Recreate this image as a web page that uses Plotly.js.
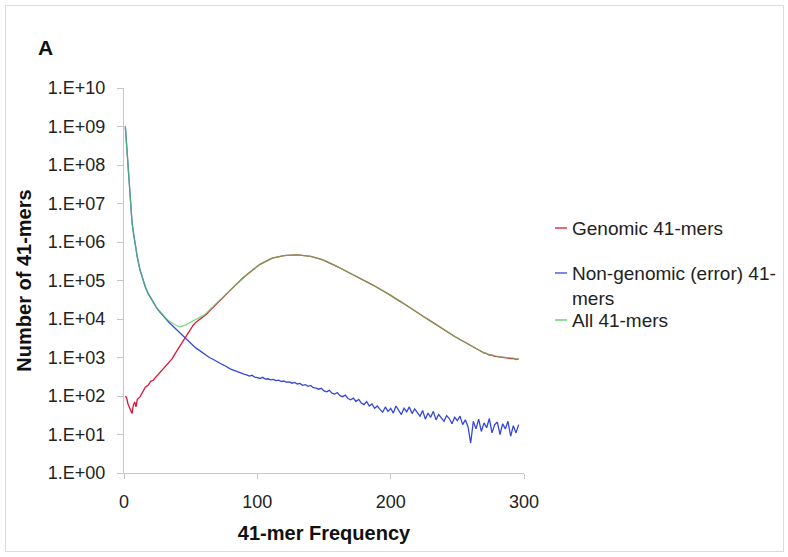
<!DOCTYPE html>
<html><head><meta charset="utf-8">
<script src="https://cdn.plot.ly/plotly-3.0.1.min.js"></script>
<style>
html,body{margin:0;padding:0;background:#fff;}
#chart{width:788px;height:557px;}
#frame{position:absolute;left:5px;top:5px;width:777px;height:545px;border:1px solid #dcdcdc;pointer-events:none;}
</style>
</head><body><div id="chart"></div><div id="frame"></div>
<script>
// 41-mer frequency (x)
const frequency = [1,2,3,4,5,6,7,8,9,10,
 12,14,16,18,20,22,24,26,28,30,
 32,34,36,38,40,42,44,46,48,50,
 52,54,56,58,60,62,64,66,68,70,
 72,74,76,78,80,82,84,86,88,90,
 92,94,96,98,100,102,104,106,108,110,
 112,114,116,118,120,122,124,126,128,130,
 132,134,136,138,140,142,144,146,148,150,
 152,154,156,158,160,162,164,166,168,170,
 172,174,176,178,180,182,184,186,188,190,
 192,194,196,198,200,202,204,206,208,210,
 212,214,216,218,220,222,224,226,228,230,
 232,234,236,238,240,242,244,246,248,250,
 252,254,256,258,260,262,264,266,268,270,
 272,274,276,278,280,282,284,286,288,290,
 292,294,296];

const genomic = [100,90,62,52,40,35,58,70,52,82,
 95,130,170,190,240,260,310,360,430,520,
 620,750,920,1200,1550,2050,2650,3300,4300,5600,
 7000,8300,9400,10500,11400,13400,16000,18600,22200,25200,
 3.03e4,3.54e4,4.14e4,4.85e4,5.7e4,6.75e4,7.85e4,9.05e4,1.065e5,1.225e5,
 1.41e5,1.62e5,1.86e5,2.09e5,2.34e5,2.63e5,2.88e5,3.16e5,3.39e5,3.63e5,
 3.85e5,4.03e5,4.17e5,4.32e5,4.42e5,4.49e5,4.55e5,4.59e5,4.62e5,4.62e5,
 4.57e5,4.52e5,4.42e5,4.32e5,4.22e5,4.07e5,3.94e5,3.76e5,3.55e5,3.35e5,
 3.13e5,2.88e5,2.69e5,2.48e5,2.29e5,2.11e5,1.95e5,1.80e5,1.66e5,1.53e5,
 1.41e5,1.30e5,1.20e5,1.11e5,1.01e5,9.3e4,8.6e4,7.85e4,7.2e4,6.6e4,
 6.0e4,5.5e4,5.0e4,4.6e4,4.1e4,3.7e4,3.4e4,3.05e4,2.75e4,2.5e4,
 2.24e4,2.0e4,1.82e4,1.64e4,1.48e4,1.33e4,1.2e4,1.08e4,9.8e3,8.8e3,
 7.85e3,7.2e3,6.45e3,5.8e3,5.2e3,4.7e3,4.3e3,3.85e3,3.5e3,3.2e3,
 2.93e3,2.68e3,2.43e3,2.22e3,2.05e3,1.83e3,1.70e3,1.53e3,1.43e3,1.31e3,
 1.27e3,1.16e3,1.15e3,1.07e3,1.06e3,1.03e3,1.0e3,965,980,940,
 945,890,925];

const nonGenomic = [1.0e9,2.8e8,8.9e7,2.2e7,7.1e6,3.3e6,1.8e6,1.05e6,6.3e5,4.0e5,
 1.9e5,1.05e5,6.8e4,4.7e4,3.5e4,2.6e4,2.07e4,1.66e4,1.36e4,1.12e4,
 9.4e3,8.0e3,6.9e3,5.9e3,5.1e3,4.4e3,3.7e3,3.1e3,2.65e3,2.3e3,
 2000,1750,1580,1400,1250,1120,1000,930,840,760,
 700,650,600,540,500,470,440,410,395,370,
 355,330,345,310,300,285,305,275,280,262,
 270,250,258,238,245,228,232,215,226,205,
 212,190,198,178,188,165,160,150,158,135,
 128,140,118,112,122,102,96,105,86,80,
 88,72,82,66,60,72,55,62,48,55,
 45,38,52,40,48,36,55,42,33,48,
 39,52,35,46,38,30,42,25,36,28,
 40,24,33,27,22,31,26,19,28,23,
 30,18,24,16,6,22,14,25,12,20,
 15,26,11,18,21,10,19,14,22,9,
 17,11,18];

const allKmers = [1.0e9,2.8e8,8.9e7,2.2e7,7.1e6,3.3e6,1.8e6,1.05e6,6.3e5,4.0e5,
 1.9e5,1.05e5,6.8e4,4.7e4,3.5e4,2.6e4,2.1e4,1.7e4,1.4e4,1.17e4,
 1.0e4,8.7e3,7.8e3,7.1e3,6.6e3,6.3e3,6.5e3,6.9e3,7.6e3,8.3e3,
 9.1e3,1.0e4,1.1e4,1.17e4,1.26e4,1.45e4,1.7e4,1.95e4,2.3e4,2.6e4,
 3.1e4,3.6e4,4.2e4,4.9e4,5.75e4,6.8e4,7.9e4,9.1e4,1.07e5,1.23e5,
 1.41e5,1.62e5,1.86e5,2.09e5,2.34e5,2.63e5,2.88e5,3.16e5,3.39e5,3.63e5,
 3.85e5,4.03e5,4.17e5,4.32e5,4.42e5,4.49e5,4.55e5,4.59e5,4.62e5,4.62e5,
 4.57e5,4.52e5,4.42e5,4.32e5,4.22e5,4.07e5,3.94e5,3.76e5,3.55e5,3.35e5,
 3.13e5,2.88e5,2.69e5,2.48e5,2.29e5,2.11e5,1.95e5,1.80e5,1.66e5,1.53e5,
 1.41e5,1.30e5,1.20e5,1.11e5,1.01e5,9.3e4,8.6e4,7.85e4,7.2e4,6.6e4,
 6.0e4,5.5e4,5.0e4,4.6e4,4.1e4,3.7e4,3.4e4,3.05e4,2.75e4,2.5e4,
 2.24e4,2.0e4,1.82e4,1.64e4,1.48e4,1.33e4,1.2e4,1.08e4,9.8e3,8.8e3,
 7.9e3,7.2e3,6.5e3,5.8e3,5.25e3,4.7e3,4.3e3,3.9e3,3.55e3,3.2e3,
 2.95e3,2.7e3,2.45e3,2.25e3,2.05e3,1.85e3,1.72e3,1.55e3,1.45e3,1.33e3,
 1.28e3,1.18e3,1.16e3,1.09e3,1.07e3,1.04e3,1.02e3,980,1.0e3,950,
 960,900,940];

const seriesNames = ['Genomic 41-mers', 'Non-genomic (error) 41-<br>mers', 'All 41-mers'];
const seriesColors = ['#dd1636', '#3547dc', '#55cc60'];
const yTickVals = [1,10,100,1e3,1e4,1e5,1e6,1e7,1e8,1e9,1e10];
const yTickText = ['1.E+00','1.E+01','1.E+02','1.E+03','1.E+04','1.E+05','1.E+06','1.E+07','1.E+08','1.E+09','1.E+10'];
const xTickVals = [0,100,200,300];

const FONT = 'Liberation Sans, Arial, Helvetica, sans-serif';

const traces = [
  {x: frequency, y: genomic, name: seriesNames[0], type: 'scatter', mode: 'lines',
   line: {color: seriesColors[0], width: 1.3}},
  {x: frequency, y: nonGenomic, name: seriesNames[1], type: 'scatter', mode: 'lines',
   line: {color: seriesColors[1], width: 1.3}},
  {x: frequency, y: allKmers, name: seriesNames[2], type: 'scatter', mode: 'lines',
   line: {color: seriesColors[2], width: 1.3}, opacity: 0.72}
];

// legend drawn with annotations + short line swatches (Excel-style placement)
const pxX = px => (px - 124) / 400;
const pxY = py => (473 - py) / 385;
const legendY = [228, 273, 320];
const annotations = [
  {text: '<b>A</b>', xref: 'paper', yref: 'paper', x: pxX(45), y: pxY(48),
   xanchor: 'center', yanchor: 'middle', showarrow: false, font: {size: 21, color: '#111', family: FONT}}
];
const shapes = [];
seriesNames.forEach((n, i) => {
  const multi = n.indexOf('<br>') >= 0;
  annotations.push({text: n, xref: 'paper', yref: 'paper', x: pxX(570),
    y: multi ? pxY(legendY[i] - 12) : pxY(legendY[i]),
    xanchor: 'left', yanchor: multi ? 'top' : 'middle', align: 'left', showarrow: false,
    font: {size: 19, color: '#222', family: FONT}});
  shapes.push({type: 'line', xref: 'paper', yref: 'paper', x0: pxX(555), x1: pxX(567),
    y0: pxY(legendY[i]), y1: pxY(legendY[i]), line: {color: seriesColors[i], width: 1.3}});
});

const layout = {
  width: 788, height: 557,
  margin: {l: 124, r: 264, t: 88, b: 84},
  paper_bgcolor: '#fff', plot_bgcolor: '#fff',
  showlegend: false,
  font: {family: FONT, color: '#222', size: 18},
  xaxis: {
    range: [0, 300], tickvals: xTickVals, ticks: 'outside', ticklen: 5, tickcolor: '#c4c4c4',
    showline: true, linecolor: '#c8c8c8', linewidth: 1, showgrid: false, zeroline: false,
    tickfont: {size: 18, color: '#222'}, ticklabelstandoff: 7, automargin: false,
    title: {text: '<b>41-mer Frequency</b>', font: {size: 20, color: '#111'}, standoff: 15}
  },
  yaxis: {
    type: 'log', range: [0, 10], tickvals: yTickVals, ticktext: yTickText,
    ticks: 'outside', ticklen: 6, tickcolor: '#c4c4c4',
    showline: true, linecolor: '#c8c8c8', linewidth: 1, showgrid: false, zeroline: false,
    tickfont: {size: 18, color: '#222'}, ticklabelstandoff: 8, automargin: false,
    title: {text: '<b>Number of 41-mers</b>', font: {size: 20, color: '#111'}, standoff: 10}
  },
  annotations: annotations,
  shapes: shapes
};

Plotly.newPlot('chart', traces, layout, {displayModeBar: false, staticPlot: true});
</script></body></html>
